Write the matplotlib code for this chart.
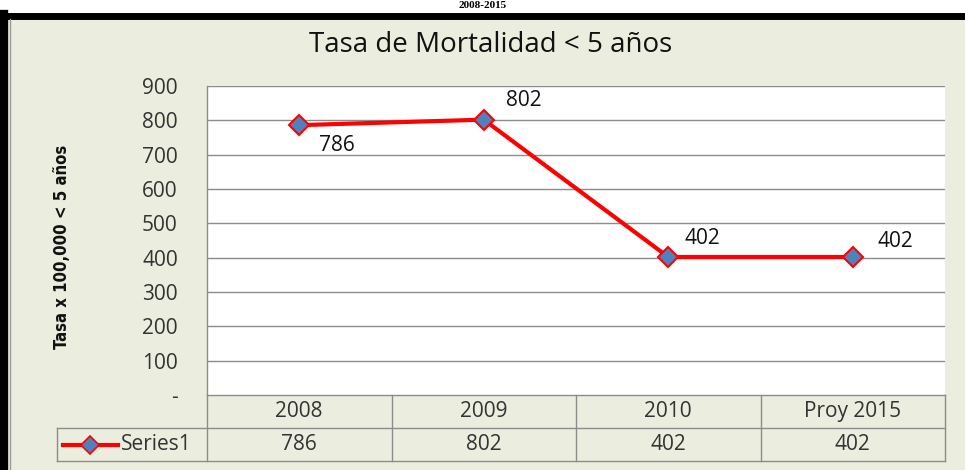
import matplotlib
matplotlib.use("Agg")
import matplotlib.pyplot as plt
from matplotlib.lines import Line2D
from matplotlib.patches import Rectangle

categories = ["2008", "2009", "2010", "Proy 2015"]
values = [786, 802, 402, 402]
series_name = "Series1"
yticks = [0, 100, 200, 300, 400, 500, 600, 700, 800, 900]
ytick_labels = ["-", "100", "200", "300", "400", "500", "600", "700", "800", "900"]
title = "Tasa de Mortalidad < 5 años"
ylabel = "Tasa x 100,000 < 5 años"
supertitle = "2008-2015"

W, H = 965, 470
BG = "#EBEEDF"
GRID = "#8C8C8C"
FONT = "Open Sans"
FS = 15

fig = plt.figure(figsize=(W / 100, H / 100), dpi=100)
fig.patch.set_facecolor("white")

def fx(x):
    return x / W

def fy(y):
    return 1 - y / H

# chart background and black frame
bg = Rectangle((fx(8), 0), 1 - fx(8), fy(18), transform=fig.transFigure,
               facecolor=BG, edgecolor="none", zorder=-10)
fig.patches.append(bg)
fig.add_artist(Line2D([fx(4), fx(4)], [0, fy(14)], color="black", lw=6, transform=fig.transFigure))
fig.add_artist(Line2D([fx(1), 1], [fy(16), fy(16)], color="black", lw=5, transform=fig.transFigure))
fig.add_artist(Line2D([fx(10), fx(10)], [0, fy(19)], color="#9A9A9A", lw=1, transform=fig.transFigure))
fig.text(0.5, fy(6), supertitle, ha="center", va="center", fontsize=8, fontweight="bold",
         family="Liberation Serif")

# plot axes
L, R, T, B = 207, 945, 86, 395
ax = fig.add_axes([fx(L), fy(B), fx(R) - fx(L), fy(T) - fy(B)])
ax.set_zorder(1)
ax.set_facecolor("white")
ax.set_ylim(0, 900)
ax.set_xlim(-0.5, len(categories) - 0.5)
ax.set_yticks(yticks)
ax.set_yticklabels(ytick_labels, fontsize=FS, family=FONT, color="#333333")
ax.tick_params(axis="y", length=0, pad=21)
ax.set_xticks([])
for y in yticks[1:]:
    ax.axhline(y, color=GRID, lw=1, zorder=1)
for s in ["top", "right", "bottom"]:
    ax.spines[s].set_visible(False)
ax.spines["left"].set_color(GRID)
ax.spines["left"].set_linewidth(1)

x = list(range(len(categories)))
ax.plot(x, values, color="#FF0000", lw=3, zorder=3, clip_on=False)
ax.plot(x, values, ls="none", marker="D", ms=10, mfc="#4F81BD", mec="#FF0000", mew=1.5,
        zorder=4, clip_on=False)

offsets = [(14, -15), (16, 14), (12, 13), (18, 11)]
for xi, v, (dx, dy) in zip(x, values, offsets):
    ax.annotate(str(v), (xi, v), xytext=(dx, dy), textcoords="offset points",
                ha="left", va="center", fontsize=FS, family=FONT, color="#111111")

fig.text((fx(307) + fx(674)) / 2, fy(45), title, ha="center", va="center", fontsize=20,
         family=FONT, color="#111111")

fig.text(fx(62), fy(247), ylabel, rotation=90, ha="center", va="center",
         fontsize=12, family="DejaVu Sans", fontstretch="condensed", fontweight="bold",
         color="#111111")

# data table
TL, TR, r0, r1, r2 = 57, 945, 395, 428, 461
cw = (TR - L) / len(categories)
lk = dict(color=GRID, lw=1, transform=fig.transFigure)
fig.add_artist(Line2D([fx(L), fx(TR)], [fy(r0), fy(r0)], **lk))
fig.add_artist(Line2D([fx(TL), fx(TR)], [fy(r1), fy(r1)], **lk))
fig.add_artist(Line2D([fx(TL), fx(TR)], [fy(r2), fy(r2)], **lk))
fig.add_artist(Line2D([fx(TL), fx(TL)], [fy(r1), fy(r2)], **lk))
for i in range(len(categories) + 1):
    xx = L + i * cw
    fig.add_artist(Line2D([fx(xx), fx(xx)], [fy(r0), fy(r2)], **lk))
for i, (c, v) in enumerate(zip(categories, values)):
    cx = L + (i + 0.5) * cw
    fig.text(fx(cx), fy((r0 + r1) / 2), c, ha="center", va="center", fontsize=FS,
             family=FONT, color="#333333")
    fig.text(fx(cx), fy((r1 + r2) / 2), str(v), ha="center", va="center", fontsize=FS,
             family=FONT, color="#333333")
# legend key
ly = fy((r1 + r2) / 2)
fig.add_artist(Line2D([fx(63), fx(118)], [ly, ly], color="#FF0000", lw=3, transform=fig.transFigure))
fig.add_artist(Line2D([fx(90)], [ly], ls="none", marker="D", ms=9, mfc="#4F81BD", mec="#FF0000",
                      mew=1.2, transform=fig.transFigure))
fig.text(fx(121), ly, series_name, ha="left", va="center", fontsize=FS, family=FONT, color="#333333")

fig.savefig("out.png", dpi=100, facecolor=fig.get_facecolor())
